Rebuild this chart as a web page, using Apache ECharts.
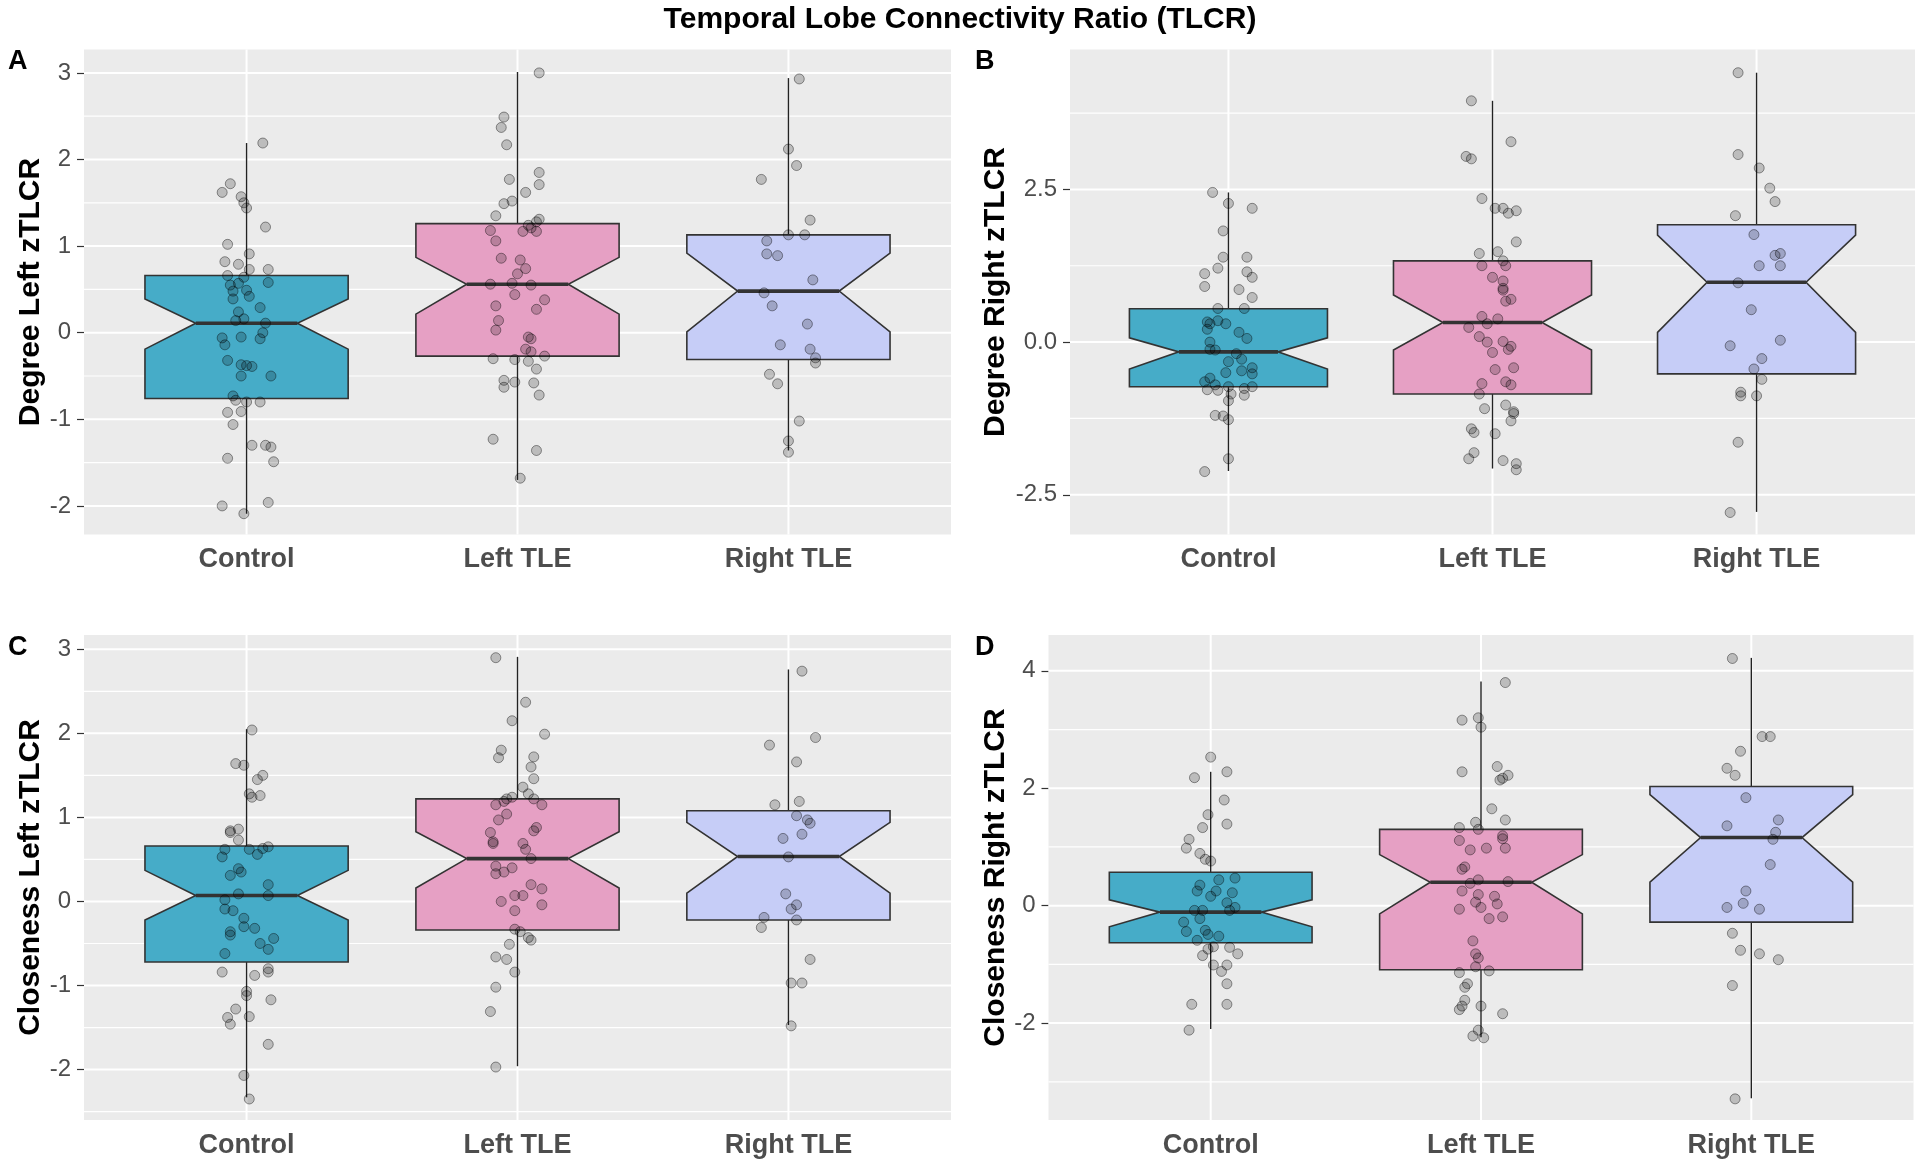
<!DOCTYPE html>
<html>
<head>
<meta charset="utf-8">
<script src="https://cdn.jsdelivr.net/npm/echarts@6/dist/echarts.min.js"></script>
<style>
html,body{margin:0;padding:0;background:#ffffff;}
#chart{width:1920px;height:1166px;}
</style>
</head>
<body>
<div id="chart"></div>
<script>
// ---------------- DATA ----------------
const categories = ['Control', 'Left TLE', 'Right TLE'];
const mainTitle = 'Temporal Lobe Connectivity Ratio (TLCR)';
const panelTags = ['A', 'B', 'C', 'D'];
const yTitles = ['Degree Left zTLCR', 'Degree Right zTLCR', 'Closeness Left zTLCR', 'Closeness Right zTLCR'];

// box statistics per group: [lower whisker, Q1, notch low, median, notch high, Q3, upper whisker]
const boxA = [[-2.09, -0.76, -0.19, 0.11, 0.39, 0.66, 2.19], [-1.70, -0.27, 0.215, 0.56, 0.87, 1.26, 3.01], [-1.36, -0.31, 0.01, 0.48, 0.92, 1.13, 2.94]];
const boxB = [[-2.11, -0.73, -0.44, -0.16, 0.07, 0.545, 2.45], [-2.07, -0.85, -0.13, 0.32, 0.77, 1.33, 3.95], [-2.78, -0.52, 0.16, 0.98, 1.75, 1.92, 4.41]];
const boxC = [[-2.33, -0.72, -0.22, 0.07, 0.37, 0.66, 2.05], [-1.96, -0.34, 0.16, 0.51, 0.83, 1.22, 2.91], [-1.47, -0.22, 0.10, 0.535, 0.94, 1.08, 2.76]];
const boxD = [[-2.10, -0.63, -0.36, -0.11, 0.10, 0.57, 2.28], [-2.24, -1.09, -0.14, 0.40, 0.87, 1.30, 3.82], [-3.28, -0.28, 0.40, 1.16, 1.89, 2.03, 4.22]];

// jittered observations: [horizontal jitter (category units), value]
const ptsA_control = [[0.06,2.19],[-0.06,1.72],[-0.09,1.62],[-0.02,1.57],[-0.01,1.50],[0.00,1.44],[0.07,1.22],[-0.07,1.02],[0.01,0.91],[-0.08,0.82],[-0.03,0.79],[0.01,0.73],[0.08,0.73],[-0.07,0.66],[-0.01,0.64],[-0.06,0.55],[0.08,0.58],[-0.03,0.57],[0.00,0.49],[-0.05,0.48],[0.01,0.42],[-0.05,0.39],[0.05,0.29],[-0.03,0.24],[-0.01,0.16],[-0.04,0.14],[0.07,0.11],[0.06,0.00],[-0.09,-0.06],[-0.02,-0.05],[0.05,-0.07],[-0.08,-0.14],[-0.07,-0.32],[-0.02,-0.37],[0.00,-0.38],[0.02,-0.39],[-0.02,-0.50],[0.09,-0.50],[-0.05,-0.73],[-0.04,-0.78],[0.00,-0.80],[0.05,-0.80],[-0.07,-0.92],[-0.02,-0.91],[-0.05,-1.06],[0.02,-1.30],[0.07,-1.30],[0.09,-1.32],[-0.07,-1.45],[0.10,-1.49],[-0.09,-2.00],[0.08,-1.96],[-0.01,-2.09]];
const ptsA_left = [[0.08,3.00],[-0.05,2.49],[-0.06,2.37],[-0.04,2.17],[0.08,1.85],[-0.03,1.77],[0.08,1.71],[0.03,1.62],[-0.05,1.49],[-0.02,1.52],[-0.08,1.35],[0.08,1.31],[0.07,1.28],[0.04,1.24],[0.05,1.21],[-0.10,1.18],[0.02,1.17],[0.07,1.17],[-0.08,1.06],[-0.06,0.86],[0.01,0.84],[0.03,0.74],[0.00,0.68],[-0.10,0.56],[-0.02,0.57],[0.05,0.55],[-0.01,0.44],[0.10,0.38],[-0.08,0.31],[0.07,0.27],[-0.07,0.14],[-0.08,0.03],[0.04,-0.05],[0.05,-0.07],[0.03,-0.19],[0.05,-0.22],[0.10,-0.27],[-0.09,-0.30],[-0.01,-0.31],[0.04,-0.33],[0.07,-0.42],[-0.05,-0.55],[-0.01,-0.57],[0.06,-0.58],[-0.05,-0.63],[0.08,-0.72],[-0.09,-1.23],[0.07,-1.36],[0.01,-1.68]];
const ptsA_right = [[0.04,2.93],[0.00,2.12],[0.03,1.93],[-0.10,1.77],[0.08,1.30],[0.00,1.13],[0.06,1.13],[-0.08,1.06],[-0.08,0.91],[-0.04,0.89],[0.09,0.61],[-0.09,0.46],[-0.06,0.31],[0.07,0.10],[-0.03,-0.14],[0.08,-0.19],[0.10,-0.29],[0.10,-0.35],[-0.07,-0.48],[-0.04,-0.59],[0.04,-1.02],[0.00,-1.25],[0.00,-1.38]];

const ptsB_control = [[-0.06,2.45],[0.00,2.27],[0.09,2.19],[-0.02,1.82],[-0.02,1.39],[0.07,1.39],[-0.04,1.21],[-0.09,1.12],[0.07,1.15],[0.09,1.06],[-0.09,0.91],[0.04,0.86],[0.09,0.73],[-0.04,0.55],[0.06,0.55],[-0.08,0.33],[-0.07,0.30],[-0.04,0.35],[-0.01,0.30],[-0.08,0.21],[0.04,0.16],[0.07,0.06],[-0.07,0.00],[-0.07,-0.12],[-0.05,-0.13],[0.03,-0.19],[0.05,-0.28],[0.00,-0.32],[0.09,-0.42],[0.05,-0.47],[-0.01,-0.50],[0.09,-0.52],[-0.07,-0.59],[-0.09,-0.65],[-0.05,-0.70],[0.00,-0.73],[0.09,-0.73],[0.06,-0.76],[-0.08,-0.78],[-0.04,-0.79],[0.01,-0.85],[0.06,-0.87],[0.00,-0.96],[-0.05,-1.20],[-0.02,-1.21],[0.00,-1.27],[0.00,-1.91],[-0.09,-2.12]];
const ptsB_left = [[-0.08,3.95],[0.07,3.28],[-0.10,3.04],[-0.08,3.00],[-0.04,2.35],[0.01,2.19],[0.04,2.19],[0.09,2.15],[0.06,2.11],[0.09,1.64],[-0.05,1.45],[0.02,1.48],[0.04,1.33],[-0.04,1.25],[0.05,1.25],[0.00,1.06],[0.04,1.00],[0.04,0.88],[0.04,0.85],[0.07,0.70],[0.05,0.67],[-0.04,0.42],[0.02,0.38],[-0.02,0.30],[-0.09,0.24],[-0.05,0.09],[-0.02,0.00],[0.04,0.01],[0.07,-0.07],[0.06,-0.12],[0.00,-0.17],[0.08,-0.42],[0.01,-0.45],[-0.04,-0.68],[0.05,-0.65],[0.07,-0.70],[-0.05,-0.85],[0.05,-1.03],[-0.03,-1.09],[0.08,-1.14],[0.08,-1.17],[0.07,-1.29],[-0.08,-1.42],[-0.07,-1.48],[0.01,-1.50],[-0.07,-1.81],[-0.09,-1.91],[0.04,-1.94],[0.09,-1.99],[0.09,-2.09]];
const ptsB_right = [[-0.07,4.41],[-0.07,3.07],[0.01,2.85],[0.05,2.52],[0.07,2.30],[-0.08,2.07],[-0.01,1.76],[0.07,1.42],[0.09,1.45],[0.01,1.25],[0.09,1.25],[-0.07,0.97],[-0.02,0.53],[0.09,0.03],[-0.10,-0.06],[0.02,-0.27],[-0.01,-0.44],[0.02,-0.61],[-0.06,-0.82],[-0.06,-0.88],[0.00,-0.88],[-0.07,-1.64],[-0.10,-2.79]];

const ptsC_control = [[0.02,2.04],[-0.04,1.64],[-0.01,1.62],[0.06,1.50],[0.04,1.45],[0.01,1.28],[0.05,1.26],[0.02,1.24],[-0.03,0.86],[-0.06,0.84],[-0.06,0.82],[-0.03,0.73],[-0.08,0.62],[0.01,0.62],[0.08,0.65],[0.06,0.63],[0.04,0.56],[-0.09,0.53],[-0.03,0.39],[-0.02,0.35],[-0.06,0.31],[0.08,0.20],[-0.03,0.09],[0.08,0.07],[-0.08,0.02],[-0.08,-0.09],[-0.05,-0.11],[-0.01,-0.20],[-0.01,-0.30],[0.03,-0.32],[-0.06,-0.36],[-0.06,-0.40],[0.10,-0.44],[0.05,-0.50],[0.08,-0.57],[-0.08,-0.62],[0.08,-0.80],[0.08,-0.84],[-0.09,-0.84],[0.03,-0.88],[0.00,-1.07],[0.00,-1.12],[0.09,-1.17],[-0.04,-1.28],[-0.07,-1.38],[0.01,-1.37],[-0.06,-1.46],[0.08,-1.70],[-0.01,-2.07],[0.01,-2.35]];
const ptsC_left = [[-0.08,2.90],[0.03,2.37],[-0.02,2.15],[0.10,1.99],[-0.06,1.80],[-0.07,1.71],[0.06,1.72],[0.05,1.60],[0.06,1.46],[0.02,1.36],[0.04,1.28],[-0.02,1.24],[-0.04,1.22],[0.06,1.22],[-0.05,1.19],[-0.08,1.15],[0.09,1.15],[-0.04,1.04],[-0.07,0.97],[0.07,0.88],[0.06,0.84],[-0.10,0.82],[-0.09,0.71],[-0.09,0.69],[0.02,0.69],[0.03,0.62],[0.05,0.51],[-0.08,0.42],[-0.02,0.40],[-0.08,0.33],[-0.05,0.35],[0.05,0.20],[0.09,0.15],[-0.01,0.07],[0.02,0.07],[-0.06,0.00],[0.09,-0.04],[-0.01,-0.11],[-0.01,-0.33],[0.01,-0.36],[0.04,-0.43],[0.05,-0.46],[-0.03,-0.51],[-0.08,-0.66],[-0.04,-0.69],[-0.01,-0.84],[-0.08,-1.02],[-0.10,-1.31],[-0.08,-1.97]];
const ptsC_right = [[0.05,2.74],[0.10,1.95],[-0.07,1.86],[0.03,1.66],[0.04,1.19],[-0.05,1.15],[0.03,1.02],[0.07,0.97],[0.08,0.93],[-0.02,0.75],[0.05,0.80],[0.00,0.53],[-0.01,0.09],[0.03,-0.04],[0.01,-0.09],[-0.09,-0.19],[0.03,-0.22],[-0.10,-0.31],[0.08,-0.69],[0.01,-0.97],[0.05,-0.97],[0.01,-1.48]];

const ptsD_control = [[0.00,2.53],[0.06,2.28],[-0.06,2.18],[0.05,1.80],[-0.01,1.55],[0.06,1.39],[-0.03,1.33],[-0.08,1.13],[-0.09,0.98],[-0.04,0.89],[-0.02,0.79],[0.00,0.76],[0.09,0.47],[0.03,0.44],[-0.04,0.35],[-0.05,0.25],[0.02,0.25],[0.08,0.22],[0.00,0.16],[0.06,0.05],[0.09,-0.03],[-0.06,-0.08],[-0.03,-0.08],[0.07,-0.08],[-0.04,-0.22],[-0.10,-0.28],[-0.02,-0.42],[-0.09,-0.44],[-0.01,-0.49],[0.03,-0.52],[-0.05,-0.59],[0.01,-0.70],[-0.01,-0.74],[0.07,-0.71],[-0.03,-0.85],[0.10,-0.82],[0.01,-1.01],[0.06,-1.01],[0.04,-1.12],[0.06,-1.33],[-0.07,-1.68],[0.06,-1.68],[-0.08,-2.12]];
const ptsD_left = [[0.09,3.80],[-0.01,3.20],[-0.07,3.16],[0.00,3.04],[0.06,2.37],[-0.07,2.28],[0.08,2.17],[0.10,2.22],[0.07,2.14],[0.04,1.65],[0.09,1.46],[-0.02,1.42],[-0.08,1.33],[-0.01,1.30],[0.08,1.19],[0.08,1.14],[-0.08,1.11],[0.02,0.98],[0.09,0.98],[-0.04,0.95],[-0.06,0.66],[-0.07,0.62],[-0.01,0.44],[0.10,0.41],[-0.04,0.38],[-0.07,0.25],[-0.01,0.19],[0.05,0.16],[-0.02,0.06],[0.06,0.03],[0.00,-0.03],[-0.08,-0.06],[0.03,-0.22],[0.08,-0.19],[-0.03,-0.60],[-0.02,-0.82],[-0.01,-0.89],[-0.02,-1.04],[0.03,-1.11],[-0.08,-1.14],[-0.05,-1.33],[-0.06,-1.39],[-0.06,-1.61],[0.00,-1.71],[-0.07,-1.71],[-0.08,-1.77],[0.08,-1.84],[-0.01,-2.12],[-0.03,-2.22],[0.01,-2.25]];
const ptsD_right = [[-0.07,4.21],[0.04,2.88],[0.07,2.88],[-0.04,2.63],[-0.09,2.34],[-0.06,2.22],[-0.02,1.84],[-0.09,1.36],[0.10,1.46],[0.09,1.25],[0.08,1.13],[0.07,0.70],[-0.02,0.25],[-0.03,0.04],[-0.09,-0.03],[0.03,-0.06],[-0.07,-0.47],[-0.04,-0.76],[0.03,-0.82],[0.10,-0.92],[-0.07,-1.36],[-0.06,-3.29]];

// y axis tick labels (major) and minor gridline values, and axis limits
const ticksA = [-2, -1, 0, 1, 2, 3];      const minorA = [-1.5, -0.5, 0.5, 1.5, 2.5];       const limA = [-2.33, 3.27];
const ticksB = [-2.5, 0, 2.5];            const minorB = [-1.25, 1.25, 3.75];               const limB = [-3.15, 4.79];
const ticksC = [-2, -1, 0, 1, 2, 3];      const minorC = [-2.5, -1.5, -0.5, 0.5, 1.5, 2.5]; const limC = [-2.60, 3.17];
const ticksD = [-2, 0, 2, 4];             const minorD = [-3, -1, 1, 3];                     const limD = [-3.65, 4.61];
const tickDecimals = [0, 1, 0, 0];
const xLim = [0.4, 3.6];

// ---------------- STYLE / LAYOUT ----------------
const FONT = "'Liberation Sans', Arial, Helvetica, sans-serif";
const fills = ['#46ACC8', '#E6A0C4', '#C6CDF7'];
const BOX_W = 0.75, NOTCH_W = 0.5;
const grids = [
  {left: 84, top: 49.5, width: 867, height: 485},
  {left: 1070, top: 49.5, width: 845, height: 485},
  {left: 84, top: 635, width: 867, height: 485},
  {left: 1048.5, top: 635, width: 865, height: 485}
];
const nameGaps = [37, 59, 37, 38];
const tagPos = [[8, 48], [975, 48], [8, 634], [975, 634]];

const boxes = [boxA, boxB, boxC, boxD];
const points = [[ptsA_control, ptsA_left, ptsA_right], [ptsB_control, ptsB_left, ptsB_right],
                [ptsC_control, ptsC_left, ptsC_right], [ptsD_control, ptsD_left, ptsD_right]];
const majors = [ticksA, ticksB, ticksC, ticksD];
const minors = [minorA, minorB, minorC, minorD];
const lims = [limA, limB, limC, limD];
const catPos = categories.map((c, i) => i + 1);

function gridRenderer(major, minor) {
  return function (params, api) {
    const cs = params.coordSys;
    const children = [];
    minor.forEach(v => {
      const y = api.coord([xLim[0], v])[1];
      children.push({type: 'line', shape: {x1: cs.x, y1: y, x2: cs.x + cs.width, y2: y},
        style: {stroke: '#ffffff', lineWidth: 1.2}});
    });
    major.forEach(v => {
      const y = api.coord([xLim[0], v])[1];
      children.push({type: 'line', shape: {x1: cs.x, y1: y, x2: cs.x + cs.width, y2: y},
        style: {stroke: '#ffffff', lineWidth: 2}});
    });
    catPos.forEach(c => {
      const x = api.coord([c, 0])[0];
      children.push({type: 'line', shape: {x1: x, y1: cs.y, x2: x, y2: cs.y + cs.height},
        style: {stroke: '#ffffff', lineWidth: 2}});
    });
    return {type: 'group', children: children};
  };
}

function boxRenderer(params, api) {
  const c = api.value(0);
  const lo = api.value(1), q1 = api.value(2), nl = api.value(3), med = api.value(4),
        nu = api.value(5), q3 = api.value(6), hi = api.value(7);
  const hw = BOX_W / 2;
  const ind = (1 - NOTCH_W) * hw;
  const P = (x, y) => api.coord([x, y]);
  const poly = [P(c - hw, q3), P(c - hw, nu), P(c - hw + ind, med), P(c - hw, nl), P(c - hw, q1),
                P(c + hw, q1), P(c + hw, nl), P(c + hw - ind, med), P(c + hw, nu), P(c + hw, q3)];
  const top = P(c, hi), q3p = P(c, q3), q1p = P(c, q1), bot = P(c, lo);
  const mL = P(c - hw + ind, med), mR = P(c + hw - ind, med);
  return {type: 'group', children: [
    {type: 'line', shape: {x1: top[0], y1: top[1], x2: q3p[0], y2: q3p[1]}, style: {stroke: '#222222', lineWidth: 1.4}},
    {type: 'line', shape: {x1: q1p[0], y1: q1p[1], x2: bot[0], y2: bot[1]}, style: {stroke: '#222222', lineWidth: 1.4}},
    {type: 'polygon', shape: {points: poly}, style: {fill: fills[c - 1], stroke: '#333333', lineWidth: 1.6}},
    {type: 'line', shape: {x1: mL[0], y1: mL[1], x2: mR[0], y2: mR[1]}, style: {stroke: '#333333', lineWidth: 3.6}}
  ]};
}

const option = {
  animation: false,
  backgroundColor: '#ffffff',
  title: {text: mainTitle, left: 'center', top: 0,
    textStyle: {fontFamily: FONT, fontSize: 30, fontWeight: 'bold', color: '#000000'}},
  grid: grids.map(g => Object.assign({show: true, backgroundColor: '#EBEBEB', borderWidth: 0}, g)),
  xAxis: grids.map((g, i) => ({
    type: 'value', gridIndex: i, min: xLim[0], max: xLim[1],
    axisLine: {show: false},
    splitLine: {show: false},
    axisTick: {show: true, customValues: catPos, length: 7, lineStyle: {color: '#333333', width: 1.2}},
    axisLabel: {show: true, customValues: catPos, margin: 12,
      formatter: v => categories[Math.round(v) - 1],
      fontFamily: FONT, fontSize: 27, fontWeight: 'bold', color: '#4D4D4D'}
  })),
  yAxis: grids.map((g, i) => ({
    type: 'value', gridIndex: i, min: lims[i][0], max: lims[i][1],
    axisLine: {show: false},
    splitLine: {show: false},
    axisTick: {show: true, customValues: majors[i], length: 7, lineStyle: {color: '#333333', width: 1.2}},
    axisLabel: {show: true, customValues: majors[i], margin: 13,
      formatter: v => v.toFixed(tickDecimals[i]),
      fontFamily: FONT, fontSize: 24, color: '#4D4D4D'},
    name: yTitles[i], nameLocation: 'middle', nameGap: nameGaps[i],
    nameTextStyle: {fontFamily: FONT, fontSize: 30, fontWeight: 'bold', color: '#000000'}
  })),
  graphic: panelTags.map((t, i) => ({
    type: 'text', left: tagPos[i][0], top: tagPos[i][1],
    style: {text: t, font: 'bold 27px ' + FONT, fill: '#000000'}
  })),
  series: []
};

grids.forEach((g, i) => {
  option.series.push({
    type: 'custom', xAxisIndex: i, yAxisIndex: i, z: 1, silent: true,
    renderItem: gridRenderer(majors[i], minors[i]),
    data: [[2, 0]], encode: {x: 0, y: 1}
  });
  option.series.push({
    type: 'custom', xAxisIndex: i, yAxisIndex: i, z: 2, silent: true,
    renderItem: boxRenderer,
    data: boxes[i].map((b, k) => [k + 1].concat(b)),
    encode: {x: 0, y: [1, 2, 3, 4, 5, 6, 7]}
  });
  const pts = [];
  points[i].forEach((grp, k) => grp.forEach(p => pts.push([k + 1 + p[0], p[1]])));
  option.series.push({
    type: 'scatter', xAxisIndex: i, yAxisIndex: i, z: 3, silent: true,
    symbol: 'circle', symbolSize: 10,
    itemStyle: {color: 'rgba(0,0,0,0.2)', borderColor: 'rgba(0,0,0,0.4)', borderWidth: 1, opacity: 1},
    data: pts
  });
});

const chart = echarts.init(document.getElementById('chart'), null, {renderer: 'canvas'});
chart.setOption(option);
</script>
</body>
</html>
